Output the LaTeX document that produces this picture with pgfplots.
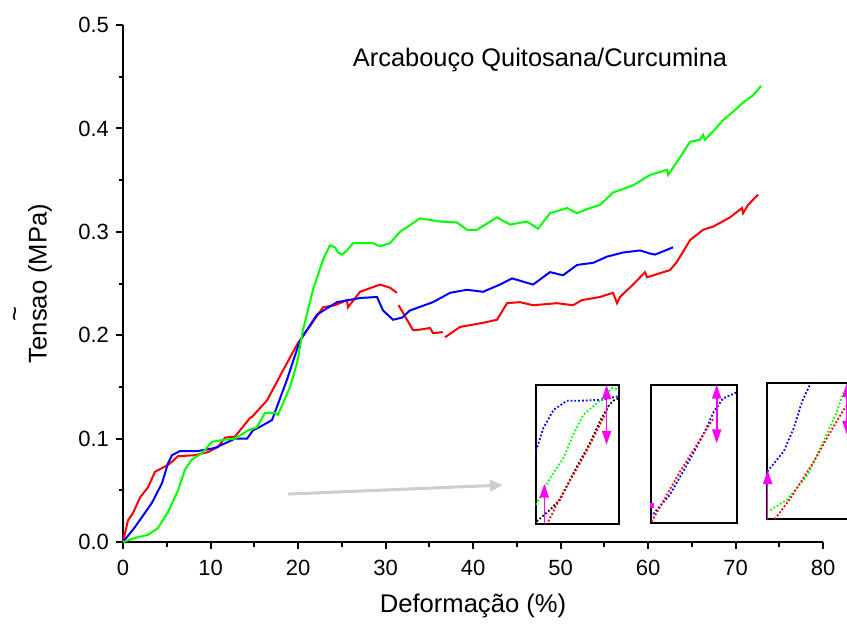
\documentclass[border=0pt]{standalone}
\usepackage{fontspec}
\setmainfont{Liberation Sans}
\usepackage{pgfplots}
\pgfplotsset{compat=1.18}
\usetikzlibrary{arrows.meta}
\definecolor{cred}{RGB}{255,0,0}
\definecolor{cgreen}{RGB}{0,255,0}
\definecolor{cblue}{RGB}{0,0,255}
\definecolor{cmag}{RGB}{255,0,255}
\definecolor{cgray}{RGB}{205,205,205}
\begin{document}
\begin{tikzpicture}
\begin{axis}[
  scale only axis, width=350pt, height=258.5pt,
  xmin=0, xmax=80, ymin=0, ymax=0.5,
  axis lines=left, axis line style={-, line width=1pt},
  tick align=outside, major tick length=3.5pt, minor tick length=2.25pt,
  every tick/.style={black, line width=1pt},
  xtick={0,10,20,30,40,50,60,70,80}, minor xtick={5,15,25,35,45,55,65,75},
  ytick={0,0.1,0.2,0.3,0.4,0.5}, minor ytick={0.05,0.15,0.25,0.35,0.45},
  yticklabel style={/pgf/number format/fixed, /pgf/number format/fixed zerofill, /pgf/number format/precision=1},
  xticklabel style={yshift=-2pt},
  /pgf/number format/assume math mode=true,
  tick label style={font=\fontsize{11}{13}\selectfont},
  xlabel={Deformação (\%)}, ylabel={Tensao (MPa)},
  label style={font=\fontsize{12.8}{15}\selectfont},
  x label style={at={(axis description cs:0.5,-0.1238)}, anchor=center},
  y label style={at={(axis description cs:-0.1186,0.5)}, anchor=center},
  clip=false,
  unbounded coords=jump,
]
% red
\addplot[cred, line width=1pt] coordinates {
(0,0) (0.57,0.021) (1.14,0.028) (1.94,0.043) (2.86,0.053) (3.66,0.068) (4.80,0.073) (5.37,0.076) (6.29,0.083) (8.23,0.084) (9.71,0.087) (10.86,0.092) (11.66,0.101) (12.80,0.102) (14.51,0.120) (14.74,0.121) (16.46,0.137) (18.29,0.166) (19.89,0.191) (20.23,0.195) (22.86,0.227) (24.23,0.229) (25.6,0.234) (25.71,0.227) (27.09,0.242) (29.37,0.249) (30.5,0.246) (31.31,0.241)
(31.4,nan)
(31.5,0.229) (32.46,0.215) (33.14,0.205) (33.6,0.205) (35.09,0.207) (35.43,0.202) (36.57,0.203)
(36.7,nan)
(36.8,0.198) (38.51,0.208) (41.14,0.212) (42.74,0.215) (43.89,0.231) (45.37,0.232) (46.86,0.229) (49.6,0.231) (51.43,0.229) (52.46,0.234) (54.51,0.237) (56.0,0.241) (56.46,0.231) (56.8,0.237) (58.29,0.249) (59.66,0.261) (59.89,0.256) (61.37,0.260) (62.51,0.263) (63.31,0.271) (64.8,0.292) (66.29,0.302) (67.43,0.305) (69.37,0.314) (70.74,0.323) (70.86,0.318) (71.43,0.326) (72.57,0.336)
};
% blue
\addplot[cblue, line width=1pt] coordinates {
(0,0) (1.37,0.0145) (3.31,0.038) (4.46,0.057) (5.14,0.076) (5.6,0.084) (6.51,0.088) (8.57,0.088) (10.51,0.091) (12.8,0.100) (14.17,0.100) (14.86,0.108) (16.0,0.113) (17.03,0.118) (18.74,0.157) (20.23,0.195) (22.17,0.220) (24.46,0.232) (27.09,0.236) (29.03,0.237) (29.71,0.224) (30.86,0.215) (31.89,0.217) (32.8,0.224) (35.43,0.232) (37.37,0.241) (39.31,0.244) (41.14,0.242) (43.09,0.249) (44.46,0.255) (46.86,0.249) (48.8,0.261) (50.29,0.258) (51.89,0.268) (53.71,0.270) (55.31,0.276) (57.14,0.280) (59.09,0.282) (60.23,0.279) (60.8,0.278) (62.86,0.285)
};
% green
\addplot[cgreen, line width=1pt] coordinates {
(0,0) (1.37,0.004) (2.86,0.007) (4.0,0.0135) (5.14,0.029) (6.29,0.050) (7.09,0.070) (7.89,0.080) (9.03,0.086) (10.17,0.097) (11.66,0.099) (12.8,0.100) (14.29,0.108) (15.31,0.111) (16.23,0.125) (17.37,0.125) (17.71,0.123) (19.09,0.150) (19.89,0.173) (20.57,0.205) (21.71,0.244) (22.86,0.273) (23.66,0.287) (24.23,0.285) (24.57,0.280) (25.03,0.278) (25.6,0.282) (26.29,0.289) (27.43,0.289) (28.57,0.289) (29.37,0.286) (30.51,0.289) (31.66,0.300) (33.94,0.313) (36.23,0.310) (38.17,0.309) (39.31,0.302) (40.46,0.302) (42.74,0.314) (44.23,0.307) (46.17,0.310) (47.43,0.303) (48.8,0.318) (50.74,0.323) (51.89,0.318) (53.03,0.322) (54.51,0.326) (56.0,0.338) (58.29,0.345) (60.23,0.355) (62.17,0.360) (62.29,0.355) (63.66,0.372) (64.8,0.387) (65.94,0.389) (66.29,0.394) (66.51,0.389) (67.43,0.397) (68.57,0.408) (69.71,0.416) (70.86,0.425) (72.0,0.432) (72.91,0.441)
};
% gray arrow
\addplot[cgray, line width=1.5pt, -{Triangle[length=6.5pt,width=5.5pt]}] coordinates {(18.86,0.0464) (43.43,0.0551)};
\node[anchor=base, font=\fontsize{12.7}{15}\selectfont] at (axis cs:47.66,0.4603) {Arcabouço Quitosana/Curcumina};
\node[rotate=90, font=\fontsize{12.8}{15}\selectfont] at (axis cs:-12.0,0.2205) {\textasciitilde};
\coordinate (inA) at (axis cs:47.2,0.0174);
\coordinate (inB) at (axis cs:60.31,0.0187);
\coordinate (inC) at (axis cs:73.57,0.0222);
\coordinate (bbsw) at (axis cs:-14.057,-0.0783);
\coordinate (bbne) at (axis cs:82.74,0.5242);
\end{axis}
% inset A
\begin{axis}[at={(inA)}, anchor=south west, scale only axis, width=41.5pt, height=69.5pt,
  xmin=0, xmax=1, ymin=0, ymax=1, ticks=none, axis line style={line width=1pt}, clip=false]
\addplot[cblue, line width=0.9pt, densely dotted] coordinates {(0,0.527) (0.088,0.69) (0.21,0.82) (0.37,0.887) (0.53,0.887) (0.79,0.894) (1.0,0.92)};
\addplot[cgreen, line width=0.9pt, densely dotted] coordinates {(0,0.139) (0.169,0.331) (0.33,0.475) (0.45,0.643) (0.57,0.786) (0.69,0.847) (0.85,0.93) (0.91,0.978) (1,0.966)};
\addplot[black, line width=0.9pt, densely dotted] coordinates {(0.008,0.019) (0.169,0.103) (0.289,0.175) (0.45,0.367) (0.65,0.583) (0.77,0.739) (0.87,0.847) (0.93,0.887) (1,0.906)};
\addplot[cred, line width=0.9pt, densely dotted] coordinates {(0.148,0.019) (0.289,0.187) (0.45,0.355) (0.61,0.523) (0.73,0.667) (0.83,0.786) (0.87,0.847)};
\addplot[cmag, line width=0.8pt, -{Triangle[length=7pt,width=4.5pt]}] coordinates {(0.1,0) (0.1,0.29)};
\addplot[cmag, line width=0.8pt, {Triangle[length=7pt,width=4.5pt]}-{Triangle[length=7pt,width=4.5pt]}] coordinates {(0.85,0.57) (0.85,1.0)};
\end{axis}
% inset B
\begin{axis}[at={(inB)}, anchor=south west, scale only axis, width=43pt, height=69pt,
  xmin=0, xmax=1, ymin=0, ymax=1, ticks=none, axis line style={line width=1pt}, clip=false]
\addplot[cblue, line width=0.9pt, densely dotted] coordinates {(0,0.043) (0.22,0.2) (0.42,0.418) (0.61,0.636) (0.73,0.80) (0.84,0.90) (1.0,0.945)};
\addplot[cred, line width=0.9pt, densely dotted] coordinates {(0.01,0.007) (0.34,0.37) (0.73,0.757)};
\addplot[cmag, line width=2pt] coordinates {(0.01,0.11) (0.01,0.14)};
\addplot[cmag, line width=0.8pt, {Triangle[length=7pt,width=4.5pt]}-{Triangle[length=7pt,width=4.5pt]}] coordinates {(0.767,0.575) (0.767,1.0)};
\end{axis}
% inset C
\begin{axis}[at={(inC)}, anchor=south west, scale only axis, width=45pt, height=68pt,
  xmin=0, xmax=1, ymin=0, ymax=1, ticks=none, axis line style={line width=1pt}, clip=false]
\addplot[cblue, line width=0.9pt, densely dotted] coordinates {(0.007,0.35) (0.19,0.5) (0.3,0.67) (0.39,0.86) (0.48,0.99)};
\addplot[cgreen, line width=0.9pt, densely dotted] coordinates {(0.04,0.066) (0.22,0.14) (0.45,0.32) (0.63,0.57) (0.78,0.79) (0.85,0.93)};
\addplot[cred, line width=0.9pt, densely dotted] coordinates {(0.09,0) (0.26,0.15) (0.52,0.42) (0.75,0.69) (0.88,0.83)};
\addplot[cmag, line width=0.8pt, -{Triangle[length=7pt,width=4.5pt]}] coordinates {(0.01,0) (0.01,0.36)};
\addplot[cmag, line width=0.8pt, {Triangle[length=7pt,width=4.5pt]}-{Triangle[length=7pt,width=4.5pt]}] coordinates {(0.89,0.62) (0.89,1.0)};
\end{axis}
\pgfresetboundingbox
\path[use as bounding box] (bbsw) rectangle (bbne);
\end{tikzpicture}
\end{document}
